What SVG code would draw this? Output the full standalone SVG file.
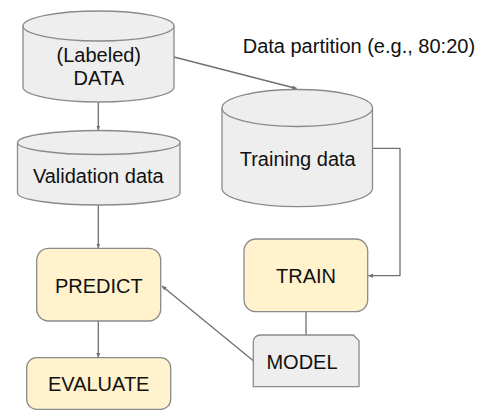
<svg xmlns="http://www.w3.org/2000/svg" width="487" height="419" viewBox="0 0 487 419">
<style>
.cyl{fill:#eeeeee;stroke:#8a8a8a;stroke-width:1.3}
.box{fill:#fff2cc;stroke:#8a8a8a;stroke-width:1.3}
.doc{fill:#eeeeee;stroke:#8a8a8a;stroke-width:1.3}
.t{font-family:"Liberation Sans",Arial,sans-serif;font-size:20px;fill:#111;text-anchor:middle}
.c{fill:none;stroke:#707070;stroke-width:1.3}
</style>
<defs>
<marker id="ah" viewBox="0 0 10 10" refX="9" refY="5" markerWidth="5" markerHeight="5" orient="auto" markerUnits="userSpaceOnUse">
<path d="M0,1 L10,5 L0,9 Z" fill="#707070"/>
</marker>
</defs>
<rect width="487" height="419" fill="#ffffff"/>
<g id="connectors">
<line class="c" x1="98.3" y1="102" x2="98.3" y2="130" marker-end="url(#ah)"/>
<line class="c" x1="174" y1="57" x2="296.5" y2="88.5" marker-end="url(#ah)"/>
<polyline class="c" points="372.7,148.3 400,148.3 400,275.7 368.5,275.7" marker-end="url(#ah)"/>
<line class="c" x1="98.3" y1="205" x2="98.3" y2="248" marker-end="url(#ah)"/>
<line class="c" x1="306" y1="311.7" x2="306" y2="335"/>
<line class="c" x1="253.3" y1="360.7" x2="162" y2="286" marker-end="url(#ah)"/>
<line class="c" x1="98.3" y1="321" x2="98.3" y2="357.5" marker-end="url(#ah)"/>
</g>
<g id="data">
<path class="cyl" d="M23,26 A75.5,15 0 0 1 174,26 V87 A75.5,15 0 0 1 23,87 Z"/>
<path class="cyl" d="M23,26 A75.5,15 0 0 0 174,26" fill="none"/>
<text class="t" x="98.8" y="61.7">(Labeled)</text>
<text class="t" x="98.8" y="85">DATA</text>
</g>
<g id="validation">
<path class="cyl" d="M17.5,142.5 A81.25,12 0 0 1 180,142.5 V193 A81.25,12 0 0 1 17.5,193 Z"/>
<path class="cyl" d="M17.5,142.5 A81.25,12 0 0 0 180,142.5" fill="none"/>
<text class="t" x="98.3" y="182.7">Validation data</text>
</g>
<g id="training">
<path class="cyl" d="M222,108 A75.25,18.5 0 0 1 372.5,108 V188.2 A75.25,18.5 0 0 1 222,188.2 Z"/>
<path class="cyl" d="M222,108 A75.25,18.5 0 0 0 372.5,108" fill="none"/>
<text class="t" x="297.7" y="165.7">Training data</text>
</g>
<g id="partition-label">
<text class="t" x="242.7" y="52.7" style="text-anchor:start">Data partition (e.g., 80:20)</text>
</g>
<g id="train">
<rect class="box" x="244" y="239" width="123.7" height="72.7" rx="12" ry="12"/>
<text class="t" x="306" y="282.7">TRAIN</text>
</g>
<g id="model">
<path class="doc" d="M253.3,342 A7,7 0 0 1 260.3,335 H353.3 L359,340.7 V386.7 H253.3 Z"/>
<text class="t" x="302" y="369.3">MODEL</text>
</g>
<g id="predict">
<rect class="box" x="36.7" y="248.3" width="124" height="72.7" rx="12" ry="12"/>
<text class="t" x="98.8" y="292.7">PREDICT</text>
</g>
<g id="evaluate">
<rect class="box" x="26.7" y="357.7" width="144" height="51.6" rx="10" ry="10"/>
<text class="t" x="98.7" y="391">EVALUATE</text>
</g>
</svg>
